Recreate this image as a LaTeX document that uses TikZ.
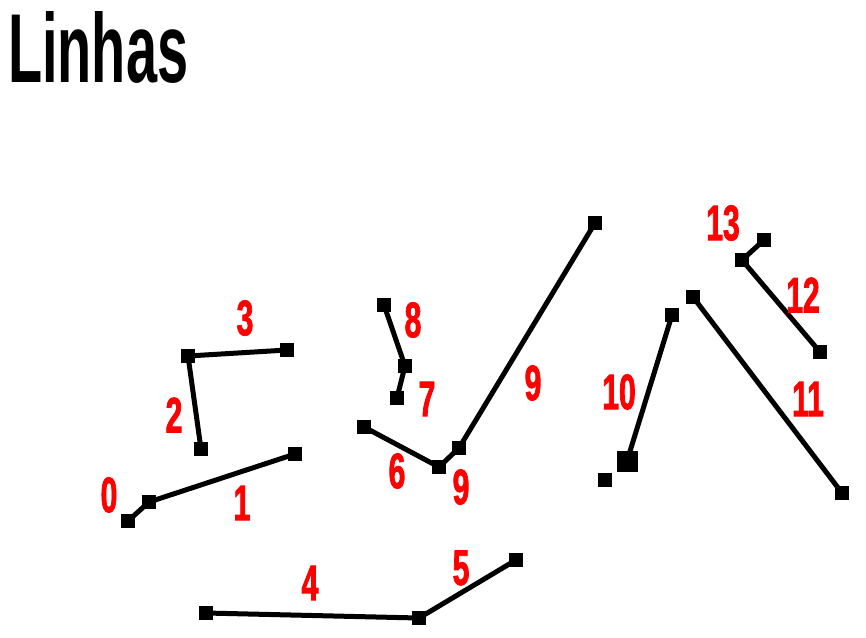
\documentclass[tikz,border=0pt]{standalone}
\usepackage{fontspec}
\newfontfamily\titlefont[FakeStretch=0.57]{Liberation Sans Bold}
\newfontfamily\labfont[FakeStretch=0.6,FakeBold=1.5]{Liberation Sans Bold}
\begin{document}
\begin{tikzpicture}[x=1pt,y=-1pt,
  sq/.style={fill=black,inner sep=0pt,minimum size=14pt},
  bigsq/.style={fill=black,inner sep=0pt,minimum size=21pt},
  ln/.style={line width=5pt,black},
  lab/.style={text=red,font=\labfont\fontsize{50}{50}\selectfont,inner sep=0pt}]
\useasboundingbox (0,0) rectangle (866,637);
\node[anchor=base west,inner sep=0pt,font=\titlefont\fontsize{98}{98}\selectfont] (title) at (8,82) {Linhas};
% points
\node[sq] (p0) at (128,521) {};
\node[sq] (p1) at (149,502) {};
\node[sq] (p2) at (295,454) {};
\node[sq] (p3) at (201,449) {};
\node[sq] (p4) at (188,356) {};
\node[sq] (p5) at (287,350) {};
\node[sq] (p6) at (206,613) {};
\node[sq] (p7) at (419,618) {};
\node[sq] (p8) at (516,560) {};
\node[sq] (p9) at (364,427) {};
\node[sq] (p10) at (439,467) {};
\node[sq] (p11) at (459,448) {};
\node[sq] (p12) at (595,223) {};
\node[sq] (p13) at (397,398) {};
\node[sq] (p14) at (405,366) {};
\node[sq] (p15) at (384,305) {};
\node[sq] (p16) at (605,480) {};
\node[bigsq] (p17) at (627,461) {};
\node[sq] (p18) at (672,315) {};
\node[sq] (p19) at (693,297) {};
\node[sq] (p20) at (842,493) {};
\node[sq] (p21) at (820,352) {};
\node[sq] (p22) at (742,260) {};
\node[sq] (p23) at (764,240) {};
% lines
\draw[ln] (p0.center) -- (p1.center);
\draw[ln] (p1.center) -- (p2.center);
\draw[ln] (p3.center) -- (p4.center);
\draw[ln] (p4.center) -- (p5.center);
\draw[ln] (p6.center) -- (p7.center);
\draw[ln] (p7.center) -- (p8.center);
\draw[ln] (p9.center) -- (p10.center);
\draw[ln] (p10.center) -- (p11.center);
\draw[ln] (p11.center) -- (p12.center);
\draw[ln] (p13.center) -- (p14.center);
\draw[ln] (p14.center) -- (p15.center);
\draw[ln] (p17.center) -- (p18.center);
\draw[ln] (p19.center) -- (p20.center);
\draw[ln] (p21.center) -- (p22.center);
\draw[ln] (p22.center) -- (p23.center);
% labels
\node[lab] (l0) at (109,495) {0};
\node[lab] (l1) at (242,503) {1};
\node[lab] (l2) at (174,415) {2};
\node[lab] (l3) at (245,318) {3};
\node[lab] (l4) at (310,583) {4};
\node[lab] (l5) at (461,568) {5};
\node[lab] (l6) at (397,471) {6};
\node[lab] (l7) at (427,399) {7};
\node[lab] (l8) at (413,320) {8};
\node[lab] (l9a) at (461,487) {9};
\node[lab] (l9b) at (533,383) {9};
\node[lab] (l10) at (619,392) {10};
\node[lab] (l11) at (808,399) {11};
\node[lab] (l12) at (803,295) {12};
\node[lab] (l13) at (723,223) {13};
\end{tikzpicture}
\end{document}
